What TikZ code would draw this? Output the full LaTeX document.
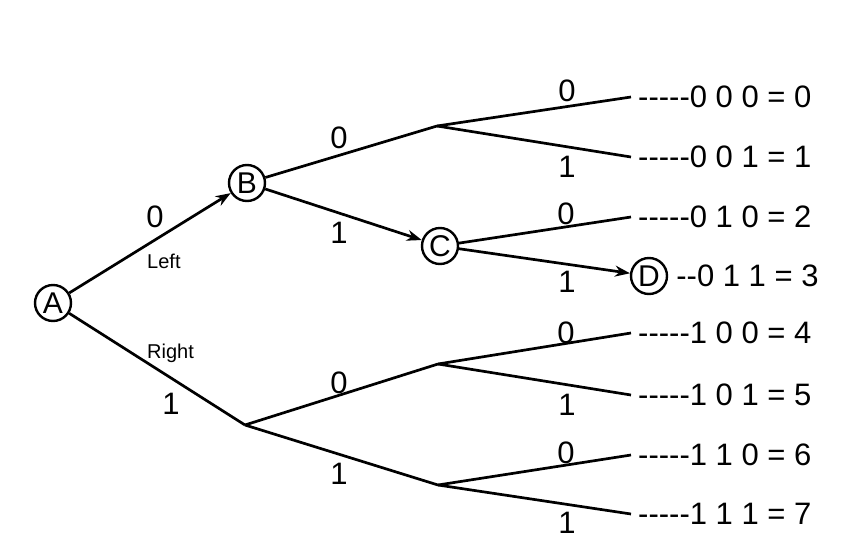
\documentclass[tikz,border=0pt]{standalone}
\usepackage{fontspec}
\newfontfamily\lab{Liberation Sans}
\usetikzlibrary{arrows.meta}
\begin{document}
\begin{tikzpicture}[x=1pt,y=-1pt,
  edge/.style={line width=2.7pt},
  arr/.style={edge,-{Stealth[length=15pt,width=11pt]}},
  state/.style={circle,draw,line width=2.4pt,minimum size=36pt,inner sep=0pt,
    font=\lab\fontsize{30}{30}\selectfont},
  bit/.style={font=\lab\fontsize{31}{31}\selectfont,inner sep=0pt},
  side/.style={font=\lab\fontsize{20}{20}\selectfont,inner sep=0pt},
  leaf/.style={anchor=west,inner xsep=7pt,inner ysep=0pt,
    font=\lab\fontsize{31}{31}\selectfont}]
\useasboundingbox (0,0) rectangle (851,549);

% states on the highlighted path
\node[state] (A) at (53,303) {A};
\node[state] (B) at (247,183) {B};
\node[state] (C) at (440,246) {C};
\node[state] (D) at (649,276) {D};

% unlabelled branch points
\coordinate (p) at (437,126);
\coordinate (q) at (245,425);
\coordinate (r) at (438,364);
\coordinate (s) at (438,485);

% leaf results
\node[leaf] (l0) at (631,97)  {-----0 0 0 = 0};
\node[leaf] (l1) at (631,157) {-----0 0 1 = 1};
\node[leaf] (l2) at (631,217) {-----0 1 0 = 2};
\node[leaf,inner xsep=0pt] (l3) at ([xshift=8pt]D.east) {--0 1 1 = 3};
\node[leaf] (l4) at (631,333) {-----1 0 0 = 4};
\node[leaf] (l5) at (631,395) {-----1 0 1 = 5};
\node[leaf] (l6) at (631,455) {-----1 1 0 = 6};
\node[leaf] (l7) at (631,514) {-----1 1 1 = 7};

% branches
\draw[arr]  (A) -- (B);
\draw[edge] (A) -- (q);
\draw[edge] (B) -- (p);
\draw[arr]  (B) -- (C);
\draw[edge] (C) -- (l2.west);
\draw[arr]  (C) -- (D);
\draw[edge] (p) -- (l0.west);
\draw[edge] (p) -- (l1.west);
\draw[edge] (q) -- (r);
\draw[edge] (q) -- (s);
\draw[edge] (r) -- (l4.west);
\draw[edge] (r) -- (l5.west);
\draw[edge] (s) -- (l6.west);
\draw[edge] (s) -- (l7.west);

% bit labels
\node[bit] (bAB) at (155,217) {0};
\node[side,anchor=base west] (left) at (147,268) {Left};
\node[side,anchor=base west] (right) at (147,358) {Right};
\node[bit] (bAq) at (171,404) {1};
\node[bit] (bBp) at (339,138) {0};
\node[bit] (bBC) at (339,233) {1};
\node[bit] (bp0) at (567,91)  {0};
\node[bit] (bp1) at (567,167) {1};
\node[bit] (bC0) at (566,214) {0};
\node[bit] (bCD) at (567,282) {1};
\node[bit] (bqr) at (339,383) {0};
\node[bit] (bqs) at (339,474) {1};
\node[bit] (br0) at (566,333) {0};
\node[bit] (br1) at (567,405) {1};
\node[bit] (bs0) at (566,453) {0};
\node[bit] (bs1) at (567,523) {1};
\end{tikzpicture}
\end{document}
